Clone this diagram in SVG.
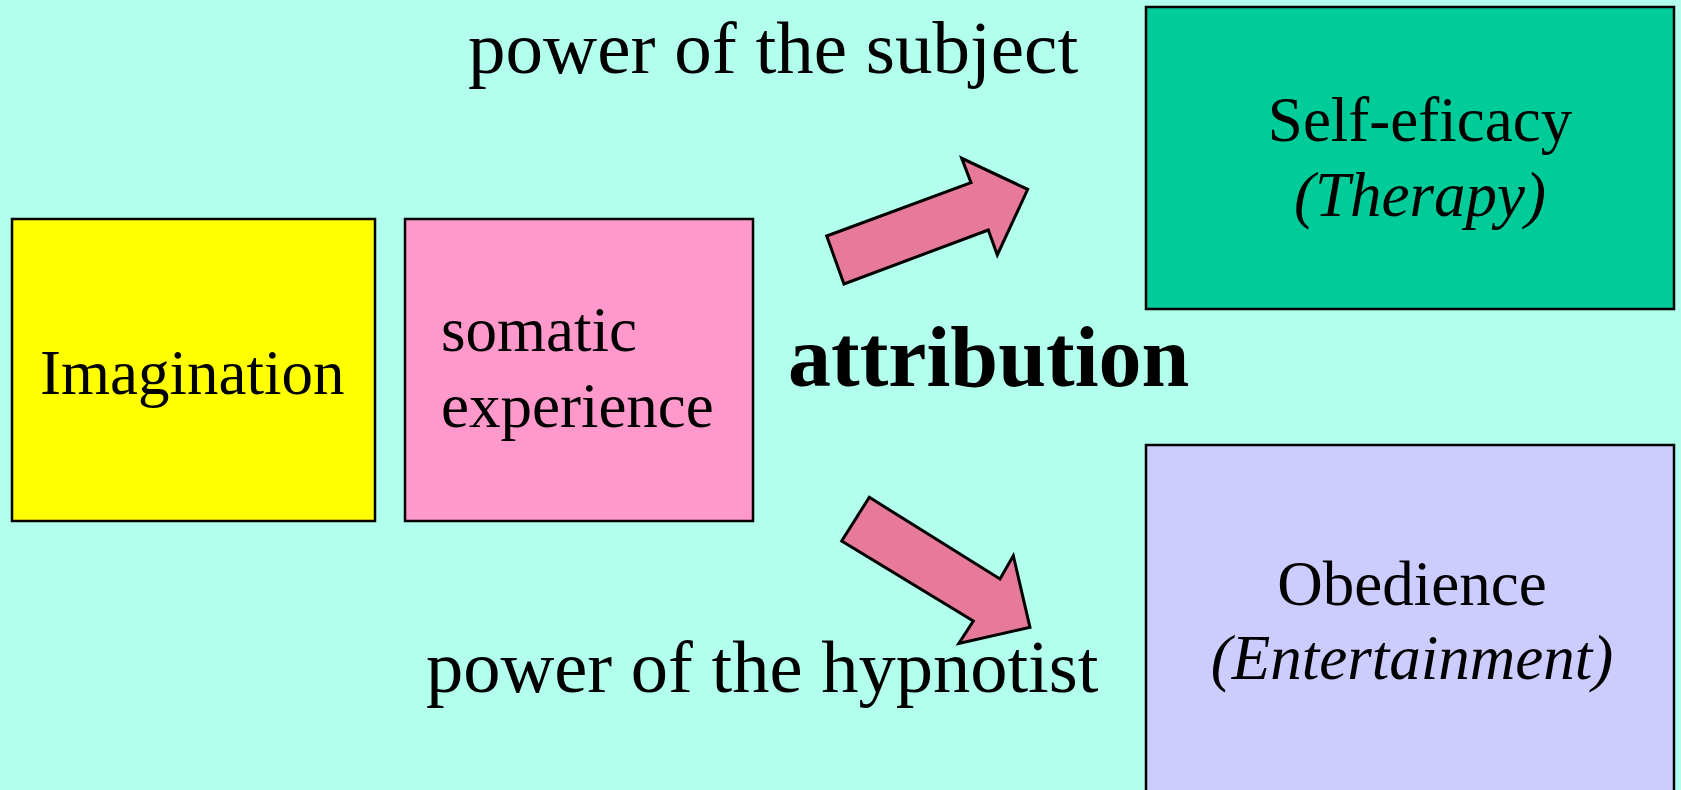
<svg xmlns="http://www.w3.org/2000/svg" width="1681" height="790" viewBox="0 0 1681 790">
<style>
.box{stroke:#000;stroke-width:2.5}
.t{font-family:"Liberation Serif","Times New Roman",serif;fill:#000}
.bt{font-size:63px}
.it{font-style:italic}
.arrow{fill:#E77A9B;stroke:#000;stroke-width:3;stroke-linejoin:miter}
</style>
<rect x="0" y="0" width="1681" height="790" fill="#B2FFEE"/>
<g id="imagination">
<rect class="box" x="12" y="219" width="363" height="302" fill="#FFFF00"/>
<text class="t bt" x="40" y="394">Imagination</text>
</g>
<g id="somatic">
<rect class="box" x="405" y="219" width="348" height="302" fill="#FF99CC"/>
<text class="t bt" x="441" y="351">somatic</text>
<text class="t bt" x="441" y="427">experience</text>
</g>
<g id="selfefficacy">
<rect class="box" x="1146" y="7" width="528" height="302" fill="#00CC99"/>
<text class="t bt" x="1420" y="141" text-anchor="middle">Self-eficacy</text>
<text class="t bt it" x="1420" y="216" text-anchor="middle">(Therapy)</text>
</g>
<g id="obedience">
<rect class="box" x="1146" y="445" width="528" height="360" fill="#CCCCFF"/>
<text class="t bt" x="1412" y="605" text-anchor="middle">Obedience</text>
<text class="t bt it" x="1412" y="679" text-anchor="middle">(Entertainment)</text>
</g>
<g id="connectors">
<polygon class="arrow" points="826.7,236 971,182.7 961.7,158.3 1027.7,189.3 997.3,255 988.3,230 844,284"/>
<polygon class="arrow" points="869.3,497.3 1000,579 1013.3,555.7 1030,627.3 958.8,643.4 973.3,621 841.7,541"/>
</g>
<g id="labels">
<text class="t" x="468" y="73" font-size="75">power of the subject</text>
<text class="t" x="426" y="692" font-size="74.5">power of the hypnotist</text>
<text class="t" x="788" y="386" font-size="86" font-weight="bold">attribution</text>
</g>
</svg>
